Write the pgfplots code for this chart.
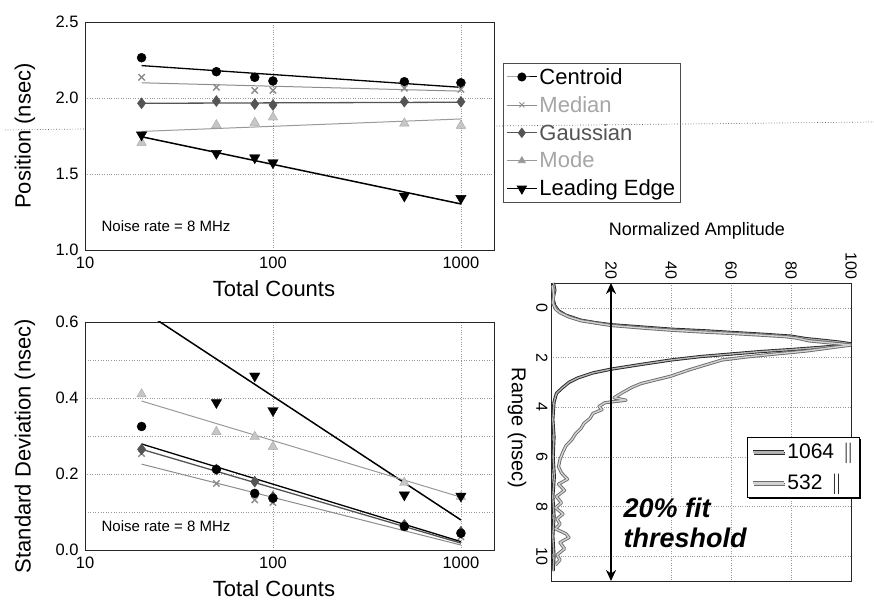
\documentclass[border=0pt]{standalone}
\usepackage{fontspec}
\setmainfont{Liberation Sans}
\setsansfont{Liberation Sans}
\usepackage{pgfplots}
\pgfplotsset{compat=1.18}
\usetikzlibrary{arrows.meta,shadows}
\newcommand{\fs}[1]{\fontsize{#1bp}{#1bp}\selectfont}
\definecolor{cmed}{gray}{0.55}
\definecolor{cgau}{gray}{0.33}
\definecolor{cmode}{gray}{0.6}
\pgfplotsset{
 leftax/.style={scale only axis, width=409bp, height=228bp, xmin=10, xmax=1500,
  xtick={10,100,1000}, xticklabels={10,100,1000},
  grid=major, grid style={dotted, gray!80, line width=0.6bp},
  minor grid style={dotted, gray!80, line width=0.6bp},
  axis line style={line width=0.8bp, black!85},
  major tick length=0pt, minor tick length=0pt,
  tick label style={font=\fs{16.5}},
  xticklabel style={yshift=-3bp},
  yticklabel style={xshift=-3bp},
  /pgf/number format/assume math mode=true,
  yticklabel style={/pgf/number format/.cd, fixed, fixed zerofill, precision=1},
  every axis x label/.style={at={(axis description cs:0.462,0)}, anchor=center, yshift=-39bp, font=\fs{22}},
  every axis y label/.style={at={(axis description cs:-0.147,0.5)}, anchor=center, rotate=90, font=\fs{22}},
 },
 cen/.style={black, mark=*, mark size=4.5bp, only marks},
 med/.style={cmed, mark=x, mark size=4.5bp, mark options={line width=1.4bp}, only marks},
 gau/.style={cgau, mark=diamond*, mark size=5.5bp, only marks},
 mod/.style={cmode, mark=triangle*, mark size=5.5bp, mark options={fill=gray!45, draw=gray!70}, only marks},
 led/.style={black, mark=triangle*, mark size=6bp, mark options={rotate=180}, only marks},
 cenf/.style={black, line width=1.3bp, no marks},
 medf/.style={cmed, line width=1bp, no marks},
 gauf/.style={cgau, line width=1.3bp, no marks},
 modf/.style={cmode, line width=1bp, no marks},
 ledf/.style={black, line width=1.5bp, no marks},
 c1064/.style={draw=black!85, line width=0.9bp, double=gray!60, double distance=1.4bp, line join=round, no marks},
 c532/.style={draw=gray!85!black, line width=0.9bp, double=gray!35, double distance=1.4bp, line join=round, no marks},
}
\begin{document}
\begin{tikzpicture}[x=1bp,y=1bp]
\useasboundingbox (0,0) rectangle (874,601);
% ---------------- top left: position ----------------
\begin{semilogxaxis}[leftax, at={(85bp,351bp)}, anchor=south west,
  ymin=1, ymax=2.5, ytick={1,1.5,2,2.5},
  xlabel={Total Counts}, ylabel={Position (nsec)},
  legend style={at={(1.022,0.82)}, anchor=north west, font=\fs{22}, draw=black!70, line width=0.5bp, inner sep=3bp, row sep=6.5bp, legend cell align=left},
  legend image code/.code={\draw[mark repeat=2,mark phase=2,#1] plot coordinates {(0bp,0bp) (15bp,0bp) (30bp,0bp)};},
]
\addlegendimage{black, line width=1bp, mark=*, mark size=4bp}
\addlegendentry{Centroid}
\addlegendimage{cmed, line width=0.8bp, mark=x, mark size=3.5bp}
\addlegendentry{\textcolor{gray!70}{Median}}
\addlegendimage{cgau, line width=1bp, mark=diamond*, mark size=4.5bp}
\addlegendentry{\textcolor{cgau}{Gaussian}}
\addlegendimage{cmode, line width=0.8bp, mark=triangle*, mark size=4bp}
\addlegendentry{\textcolor{gray!70}{Mode}}
\addlegendimage{black, line width=1.2bp, mark=triangle*, mark size=5bp, mark options={rotate=180}}
\addlegendentry{Leading Edge}
\addplot[cenf, forget plot] coordinates {(20,2.213) (1000,2.070)};
\addplot[medf, forget plot] coordinates {(20,2.100) (1000,2.045)};
\addplot[gauf, forget plot] coordinates {(20,1.965) (1000,1.972)};
\addplot[modf, forget plot] coordinates {(20,1.780) (1000,1.862)};
\addplot[ledf, forget plot] coordinates {(20,1.745) (1000,1.303)};
\addplot[cen, forget plot] coordinates {(20,2.265) (50,2.173) (80,2.136) (100,2.112) (500,2.107) (1000,2.100)};
\addplot[med, forget plot] coordinates {(20,2.136) (50,2.070) (80,2.050) (100,2.050) (500,2.064) (1000,2.057)};
\addplot[gau, forget plot] coordinates {(20,1.965) (50,1.980) (80,1.960) (100,1.954) (500,1.976) (1000,1.975)};
\addplot[mod, forget plot] coordinates {(20,1.706) (50,1.822) (80,1.838) (100,1.873) (500,1.833) (1000,1.818)};
\addplot[led, forget plot] coordinates {(20,1.757) (50,1.636) (80,1.607) (100,1.574) (500,1.355) (1000,1.340)};
\node[anchor=base west, font=\fs{15}] at (axis description cs:0.032,0.079) {Noise rate = 8 MHz};
\end{semilogxaxis}
% ---------------- bottom left: std dev ----------------
\begin{semilogxaxis}[leftax, at={(85bp,51bp)}, anchor=south west,
  ymin=0, ymax=0.6, ytick={0,0.2,0.4,0.6}, minor ytick={0.1,0.3,0.5}, yminorgrids=true,
  xlabel={Total Counts}, ylabel={Standard Deviation (nsec)},
  every axis y label/.append style={at={(axis description cs:-0.147,0.456)}},
]
\addplot[ledf] coordinates {(20,0.632) (1000,0.079)};
\addplot[modf] coordinates {(20,0.392) (1000,0.139)};
\addplot[medf] coordinates {(20,0.226) (1000,0.013)};
\addplot[gauf] coordinates {(20,0.265) (1000,0.018)};
\addplot[cenf] coordinates {(20,0.279) (1000,0.022)};
\addplot[med] coordinates {(20,0.254) (50,0.175) (80,0.132) (100,0.125) (500,0.060) (1000,0.035)};
\addplot[gau] coordinates {(20,0.265) (50,0.212) (80,0.180) (100,0.140) (500,0.066) (1000,0.048)};
\addplot[cen] coordinates {(20,0.325) (50,0.212) (80,0.149) (100,0.136) (500,0.062) (1000,0.044)};
\addplot[mod] coordinates {(20,0.410) (50,0.311) (80,0.298) (100,0.272) (500,0.177) (1000,0.140)};
\addplot[led] coordinates {(50,0.388) (80,0.458) (100,0.367) (500,0.145) (1000,0.142)};
\node[anchor=base west, font=\fs{15}] at (axis description cs:0.032,0.079) {Noise rate = 8 MHz};
\end{semilogxaxis}
% ---------------- right: waveform ----------------
\begin{axis}[scale only axis, at={(551bp,20bp)}, anchor=south west, width=300bp, height=298bp,
  xmin=0, xmax=100, ymin=-1, ymax=11, y dir=reverse,
  xtick={20,40,60,80,100}, ytick={0,2,4,6,8,10},
  xticklabel pos=upper,
  grid=major, grid style={dotted, gray!80, line width=0.6bp},
  axis line style={line width=0.9bp, black!85},
  major tick length=0pt,
  tick label style={font=\fs{16}},
  xticklabel style={rotate=-90, anchor=east},
  yticklabel style={rotate=-90, anchor=north},
  /pgf/number format/assume math mode=true,
  legend style={at={(0.653,0.483)}, anchor=north west, font=\fs{21}, draw=black, line width=0.6bp, inner sep=4bp, row sep=10bp, legend cell align=left,
    drop shadow={shadow xshift=1.5bp, shadow yshift=-1.5bp, opacity=1, fill=black}, fill=white},
  legend image code/.code={\draw[#1] (0bp,0bp) -- (31bp,0bp);},
]
\addplot[c1064] coordinates {
(0.8,-1.0) (1.3,-0.7) (0.6,-0.4) (1.2,-0.1) (2.5,0.12) (5,0.3) (10,0.5) (15,0.6) (20,0.68) (30,0.77)
(40,0.86) (52,0.93) (60,0.99) (70,1.06) (80,1.14) (85,1.24) (90,1.3) (96,1.38) (100,1.45) (96,1.53)
(89,1.6) (80,1.68) (70,1.76) (60,1.86) (50,1.96) (40,2.1) (30,2.28) (20,2.47) (14,2.62) (9,2.82)
(6,3.0) (3.5,3.25) (1.8,3.45) (1.0,3.8) (0.6,4.5) (1.0,5.2) (0.7,6.0) (1.1,6.8) (0.6,7.6) (1.0,8.4)
(0.6,9.2) (1.0,10.0) (0.7,10.6)};
\addlegendentry{1064\hspace{9bp}$\parallel$}
\addplot[c532] coordinates {
(0.5,-0.9) (0.9,-0.5) (0.6,-0.2) (1.5,0.05) (3,0.2) (6,0.37) (10,0.52) (20,0.71) (30,0.81) (40,0.9)
(50,0.97) (60,1.03) (70,1.1) (78,1.16) (82,1.22) (86,1.33) (92,1.4) (100,1.5) (95,1.58) (90,1.66)
(85,1.74) (80,1.8) (73,1.88) (65,1.98) (57,2.1) (52,2.28) (46,2.5) (40,2.75) (35,2.9) (30,3.05)
(27,3.2) (24,3.4) (21,3.62) (25,3.72) (18,3.82) (16,3.97) (17,4.1) (14,4.25) (13,4.45) (11,4.65)
(10,4.85) (8,5.1) (7,5.3) (5,5.55) (4,5.8) (3,6.1) (2.5,6.4) (3.5,6.65) (5.5,6.9) (2.5,7.1)
(4.5,7.35) (1.8,7.6) (3.5,7.85) (1.5,8.05) (4,8.3) (2,8.5) (3,8.7) (1.5,8.9) (5,9.1) (6,9.25)
(3,9.45) (4.5,9.7) (2,9.95) (3,10.15) (1.5,10.35)};
\addlegendentry{532\hspace{9bp}$\parallel$}
\draw[{Stealth[length=11bp,width=10bp]}-{Stealth[length=11bp,width=10bp]}, line width=2.2bp] (axis cs:20,-1) -- (axis cs:20,11);
\node[anchor=base west, font=\fs{27}\bfseries\itshape] at (axis cs:23,8.45) {20\% fit};
\node[anchor=base west, font=\fs{27}\bfseries\itshape] at (axis cs:23,9.65) {threshold};
\end{axis}
\node[rotate=-90, font=\fs{20}] at (517,173) {Range (nsec)};
\node[font=\fs{18}] at (697,370) {Normalized Amplitude};
\draw[dotted, gray!70!black, line width=0.7bp] (5,471) -- (85,472);
\draw[dotted, gray!70!black, line width=0.7bp] (494,475) -- (874,479);
\end{tikzpicture}
\end{document}
